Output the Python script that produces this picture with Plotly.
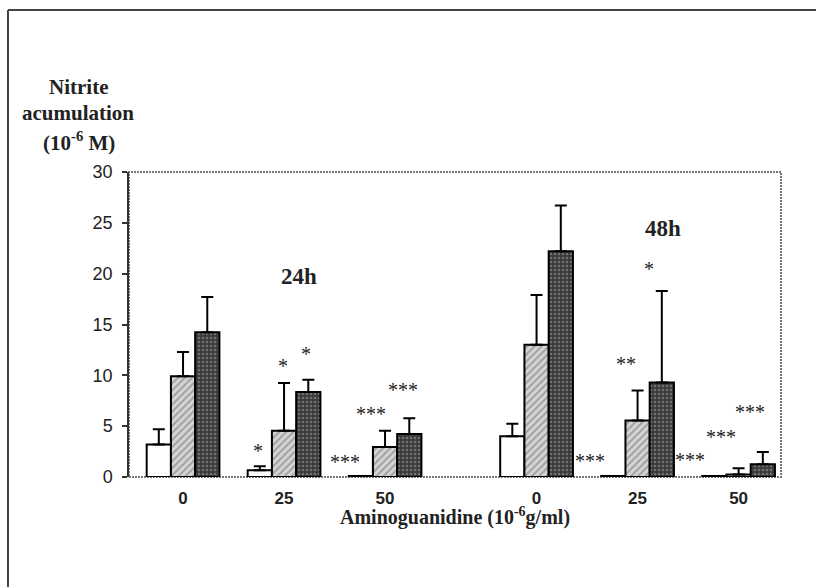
import plotly.graph_objects as go

# ---- data ----
groups = ["0", "25", "50", "0", "25", "50"]          # tick labels
group_pos = [0, 1, 2, 3.5, 4.5, 5.5]                  # category positions (24h | 48h)

white_vals = [3.2, 0.66, 0.1, 4.0, 0.1, 0.1]
white_err = [1.5, 0.4, 0, 1.25, 0, 0]

hatch_vals = [9.9, 4.55, 2.94, 13.0, 5.55, 0.25]
hatch_err = [2.4, 4.7, 1.6, 4.9, 2.95, 0.6]

dark_vals = [14.25, 8.35, 4.22, 22.2, 9.3, 1.25]
dark_err = [3.45, 1.22, 1.56, 4.5, 9.0, 1.2]

# significance marks: (x, y, text)
sig_x = [0.74, 0.99, 1.215, 1.60, 1.86, 2.175, 4.03, 4.39, 4.61, 5.02, 5.33, 5.61]
sig_y = [2.6, 10.9, 12.1, 1.5, 6.2, 8.6, 1.6, 11.1, 20.5, 1.7, 3.9, 6.4]
sig_t = ["*", "*", "*", "***", "***", "***", "***", "**", "*", "***", "***", "***"]

serif = "Liberation Serif, Times New Roman, serif"
sans = "Arial, Liberation Sans, sans-serif"

fig = go.Figure()


def err(a):
    return dict(type="data", array=a, arrayminus=[0] * len(a), symmetric=False,
                color="black", thickness=2, width=6)


fig.add_trace(go.Bar(x=group_pos, y=white_vals, error_y=err(white_err),
                     marker=dict(color="white", line=dict(color="black", width=2))))
fig.add_trace(go.Bar(x=group_pos, y=hatch_vals, error_y=err(hatch_err),
                     marker=dict(color="#d0d0d0", line=dict(color="black", width=2),
                                 pattern=dict(shape="/", bgcolor="#d4d4d4", fgcolor="#666666",
                                              size=5, solidity=0.35))))
fig.add_trace(go.Bar(x=group_pos, y=dark_vals, error_y=err(dark_err),
                     marker=dict(color="#3c3c3c", line=dict(color="black", width=2),
                                 pattern=dict(shape=".", bgcolor="#3a3a3a", fgcolor="#a8a8a8",
                                              size=4, solidity=0.35))))

annotations = []
for x, y, t in zip(sig_x, sig_y, sig_t):
    annotations.append(dict(x=x, y=y, xref="x", yref="y", text=t, showarrow=False,
                            xanchor="center", yanchor="middle",
                            font=dict(family=serif, size=20, color="#222")))


def ptext(x, y, t, size):
    return dict(x=x, y=y, xref="paper", yref="paper", text=t, showarrow=False,
                xanchor="center", yanchor="middle",
                font=dict(family=serif, size=size, color="#222", weight="bold"))


annotations += [
    dict(x=1.15, y=19.7, xref="x", yref="y", text="24h", showarrow=False,
         xanchor="center", yanchor="middle",
         font=dict(family=serif, size=23, color="#222", weight="bold")),
    dict(x=4.75, y=24.4, xref="x", yref="y", text="48h", showarrow=False,
         xanchor="center", yanchor="middle",
         font=dict(family=serif, size=23, color="#222", weight="bold")),
    ptext(-0.078, 1.279, "Nitrite", 21),
    ptext(-0.078, 1.193, "acumulation", 21),
    ptext(-0.076, 1.099, "(10<sup>-6</sup> M)", 21),
    ptext(0.5, -0.128, "Aminoguanidine (10<sup>-6</sup>g/ml)", 20),
]

shapes = [
    dict(type="rect", xref="paper", yref="paper", x0=0, x1=1, y0=0, y1=1,
         line=dict(color="#777", width=2, dash="2px,1px"), layer="below"),
    dict(type="line", xref="paper", yref="paper", x0=-0.1856, x1=1.06, y0=1.531, y1=1.531,
         line=dict(color="#444", width=2)),
    dict(type="line", xref="paper", yref="paper", x0=-0.1856, x1=-0.1856, y0=1.531, y1=-0.37,
         line=dict(color="#444", width=2)),
]

fig.update_layout(
    width=816, height=587,
    margin=dict(l=129, r=35, t=172, b=110),
    paper_bgcolor="white", plot_bgcolor="white",
    barmode="group", bargap=0.28, bargroupgap=0,
    showlegend=False,
    annotations=annotations, shapes=shapes,
    xaxis=dict(range=[-0.535, 5.92], tickvals=group_pos, ticktext=groups,
               showgrid=False, zeroline=False, showline=False, ticks="",
               ticklabelstandoff=9,
               tickfont=dict(family=sans, size=17, color="#222", weight="bold")),
    yaxis=dict(range=[0, 30], tickvals=[0, 5, 10, 15, 20, 25, 30],
               showgrid=False, zeroline=False, showline=True, linecolor="#333", linewidth=1.5,
               ticks="outside", ticklen=5, tickwidth=1.5, tickcolor="#333",
               ticklabelstandoff=6,
               tickfont=dict(family=sans, size=18, color="#222")),
)

fig.write_html("out.html", config={"displayModeBar": False},
               post_script="document.body.style.margin='0px';")
